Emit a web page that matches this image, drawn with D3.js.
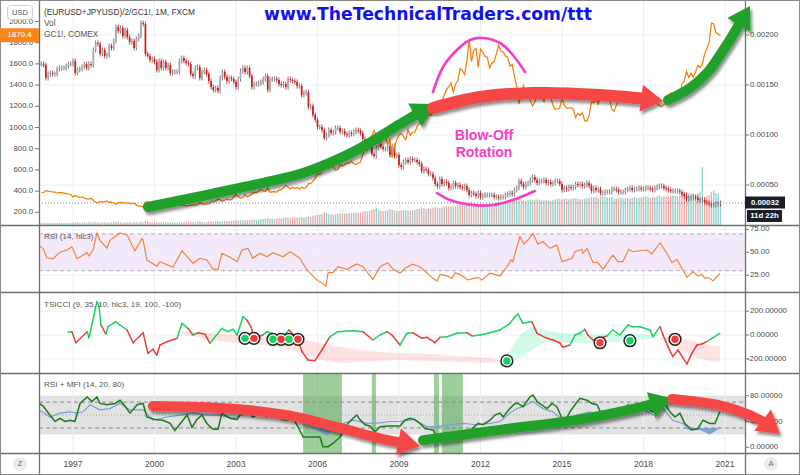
<!DOCTYPE html>
<html><head><meta charset="utf-8">
<script src="https://cdn.jsdelivr.net/npm/d3@7"></script>
<style>body{margin:0;background:#fff;}svg{display:block;font-family:"Liberation Sans",Arial,sans-serif;}</style>
</head><body><svg id="c" width="800" height="475"></svg>
<script>
// ---------- DATA ----------
const startYear = 1995, startMonth = 11; // first monthly bar: Nov 1995
// GC1! monthly close (USD)
const gold = [387,387,
405,400,396,392,390,382,385,387,379,379,371,369,
345,358,348,340,345,334,326,325,332,311,296,290,
303,297,301,308,293,296,288,273,293,292,294,288,
287,287,280,286,268,261,255,254,299,299,292,290,
283,293,278,275,272,288,276,277,273,264,270,273,
265,267,258,263,267,270,266,273,293,279,275,279,
282,297,302,308,326,318,304,313,324,317,319,347,
368,348,334,337,364,346,354,375,388,386,398,416,
403,396,427,388,393,395,391,407,416,428,453,438,
422,435,427,435,417,437,429,433,473,470,495,518,
569,556,582,654,643,613,633,626,599,604,648,636,
650,666,663,681,659,650,666,672,743,795,783,838,
923,972,917,864,885,930,913,833,884,718,816,884,
928,942,916,884,979,927,955,955,1008,1040,1182,1096,
1081,1118,1113,1180,1213,1245,1181,1247,1307,1357,1386,1421,
1333,1411,1439,1556,1536,1500,1628,1829,1624,1725,1746,1566,
1740,1711,1669,1664,1562,1604,1622,1692,1776,1719,1713,1675,
1663,1578,1595,1476,1392,1223,1313,1396,1327,1323,1250,1202,
1240,1326,1283,1295,1246,1322,1282,1287,1210,1171,1175,1184,
1279,1213,1183,1182,1190,1172,1095,1132,1115,1142,1065,1061,
1116,1238,1234,1291,1214,1322,1349,1309,1315,1277,1173,1152,
1211,1253,1249,1268,1269,1242,1269,1322,1284,1270,1275,1309,
1345,1318,1327,1316,1305,1254,1232,1206,1196,1215,1226,1283,
1325,1316,1298,1286,1311,1413,1437,1529,1472,1514,1473,1523,
1587,1566,1597,1694,1751,1800,1986,1978,1896,1880,1870];
// (EURUSD+JPYUSD)/2/GC1! monthly close, in units of 1e-5
const ratioE5 = [171,170,
157,161,162,161,161,166,167,167,167,169,171,171,
174,162,165,166,168,171,167,171,170,185,192,191,
181,185,179,180,189,187,194,208,204,207,199,205,
198,193,194,187,196,199,212,211,181,179,175,176,
173,165,174,167,173,167,170,162,163,163,163,174,
177,174,172,171,161,159,167,168,157,163,165,161,
154,148,145,147,144,157,163,158,154,157,156,153,
148,156,164,167,163,167,159,148,151,151,152,153,
156,159,145,156,156,156,155,151,150,151,148,156,
155,154,153,149,149,140,142,143,128,129,120,115,
108,108,105,97,100,105,102,103,107,107,103,104,
101,100,102,101,103,105,104,102,96,92,94,88,
81,79,87,91,88,86,86,89,80,89,79,80,
70,68,73,75,73,76,75,75,73,71,64,66,
65,61,61,57,51,49,56,51,53,52,47,48,
52,49,50,48,47,49,45,40,42,41,39,42,
38,39,40,40,40,40,38,38,37,38,38,40,
41,42,41,45,47,54,51,48,51,52,55,58,
55,52,54,54,55,52,53,51,52,54,54,51,
45,47,46,48,47,48,51,50,51,49,50,52,
49,44,47,45,46,42,42,43,43,43,46,46,
45,43,43,43,45,46,47,45,46,46,47,46,
46,47,47,46,45,47,48,49,49,47,46,45,
44,44,44,44,43,41,39,36,37,37,38,37,
35,35,35,33,32,31,30,30,31,31,32];
// monthly volume (relative units)
const volume = [5,6,
5,6,5,6,5,5,6,5,6,5,6,5,
6,6,7,6,6,7,6,7,6,8,7,6,
6,7,6,7,6,7,8,7,8,7,6,7,
6,7,6,7,7,6,8,7,10,9,7,6,
7,7,6,7,7,8,7,6,7,7,6,7,
7,7,8,7,8,7,7,8,9,8,7,8,
8,9,8,9,10,9,9,10,9,9,10,11,
12,11,12,11,13,12,12,13,14,13,14,15,
15,16,17,15,16,15,16,17,16,18,19,18,
18,19,18,19,18,20,19,20,22,21,23,24,
25,26,28,32,30,28,27,26,27,28,29,28,
28,29,30,29,30,31,30,32,34,35,34,36,
38,40,42,38,36,35,36,37,40,38,36,35,
35,36,38,36,37,36,37,38,40,41,44,42,
40,42,41,43,45,44,42,44,46,48,47,46,
48,47,50,52,50,48,52,56,58,54,52,50,
52,54,53,52,55,54,53,56,58,57,56,55,
58,60,62,64,66,68,64,62,60,62,64,63,
62,64,63,62,61,63,62,60,62,64,66,65,
64,65,66,64,65,66,67,66,65,64,66,67,
68,70,69,70,68,70,72,70,69,68,70,66,
66,67,68,66,67,68,66,68,70,68,67,69,
70,72,70,68,69,70,72,74,70,72,71,72,
72,74,73,72,74,80,78,82,79,80,78,76,
80,84,145,70,72,74,82,86,80,78,60];
// RSI(14, hlc3) [year, value]
const rsi = [[1995.75,57],[1995.90,54],[1996.04,44],[1996.26,43],[1996.52,50],[1996.78,52.5],[1996.96,56],[1997.15,43],[1997.52,49.6],[1997.59,46],[1997.74,52.5],[1997.88,71],[1997.99,63],[1998.25,54.6],[1998.36,63],[1998.73,71],[1998.99,68.8],[1999.28,51.7],[1999.54,65],[1999.58,63],[1999.72,41.6],[2000.09,35],[2000.20,39.8],[2000.68,33.7],[2001.01,51.7],[2001.42,38],[2001.67,43.5],[2001.93,41.6],[2002.15,31.8],[2002.34,31.8],[2002.48,48.9],[2002.78,44.6],[2003.04,39.8],[2003.22,52.5],[2003.44,54.3],[2003.62,43.5],[2003.88,48.9],[2004.14,45.2],[2004.36,49.6],[2004.73,45.2],[2004.99,50.7],[2005.35,43.5],[2005.61,30.8],[2005.98,20],[2006.31,13.4],[2006.39,27.8],[2006.57,27.8],[2006.75,34.3],[2007.08,31.5],[2007.45,37.3],[2007.67,34.3],[2008.04,20.6],[2008.30,34.3],[2008.59,38.7],[2008.78,31.5],[2009.04,27.2],[2009.22,32.6],[2009.51,37],[2009.77,34.3],[2010.25,21.7],[2010.40,18.8],[2010.51,26],[2010.77,24.3],[2010.95,21.7],[2011.06,27.8],[2011.24,26],[2011.54,20],[2011.72,21.3],[2011.91,22.8],[2012.05,20],[2012.35,27.2],[2012.72,24.3],[2012.97,34.3],[2013.12,41.6],[2013.19,39.8],[2013.34,56],[2013.45,67],[2013.60,59],[2013.75,63.4],[2013.93,70.6],[2014.11,59],[2014.30,61.5],[2014.56,54.3],[2014.81,58],[2015.00,39.8],[2015.37,43.5],[2015.48,50.7],[2015.73,53.3],[2015.77,48.9],[2015.92,54.3],[2016.14,39],[2016.32,38.7],[2016.51,31.5],[2016.87,47],[2017.06,39.8],[2017.24,39.8],[2017.46,53.3],[2017.61,50.7],[2017.87,51.7],[2018.13,52.5],[2018.31,48.2],[2018.61,60.4],[2018.86,48.9],[2019.05,38.7],[2019.23,42.4],[2019.60,22.8],[2019.82,29],[2020.00,24.3],[2020.15,26],[2020.26,21.7],[2020.37,22.8],[2020.56,19],[2020.81,27.2]];
// TSICCI [year, value, state g/r]
const tsi = [[1996.82,23,'g'],[1996.96,28,'g'],[1997.11,-65,'r'],[1997.52,28,'r'],[1997.59,-23,'g'],[1997.88,280,'g'],[1997.96,238,'g'],[1998.03,84,'g'],[1998.21,8,'r'],[1998.29,70,'g'],[1998.58,112,'g'],[1998.73,84,'g'],[1998.99,42,'g'],[1999.21,-65,'r'],[1999.58,19,'r'],[1999.76,-154,'r'],[1999.94,-120,'r'],[2000.09,-168,'r'],[2000.20,-84,'r'],[2000.46,-56,'r'],[2000.83,-28,'r'],[2001.01,98,'g'],[2001.23,56,'g'],[2001.42,0,'r'],[2001.60,19,'g'],[2001.86,6,'r'],[2002.04,-70,'r'],[2002.48,56,'g'],[2002.70,28,'g'],[2002.89,48,'g'],[2003.04,0,'g'],[2003.26,154,'g'],[2003.40,126,'g'],[2003.55,70,'r'],[2003.66,-28,'r'],[2003.99,0,'r'],[2004.14,28,'g'],[2004.32,14,'g'],[2004.62,-42,'r'],[2004.95,42,'g'],[2005.28,-36,'r'],[2005.43,-140,'r'],[2005.65,-210,'r'],[2005.91,-216,'r'],[2006.16,-126,'r'],[2006.46,-14,'r'],[2006.75,28,'g'],[2007.31,36,'g'],[2007.67,28,'g'],[2008.04,-42,'r'],[2008.30,0,'g'],[2008.56,28,'g'],[2008.74,0,'r'],[2009.04,-84,'r'],[2009.29,14,'g'],[2009.51,19,'g'],[2009.85,-28,'r'],[2010.03,-19,'r'],[2010.32,-65,'r'],[2010.51,-19,'r'],[2010.77,-14,'g'],[2011.13,14,'g'],[2011.50,19,'g'],[2011.69,-8,'r'],[2011.98,0,'g'],[2012.35,19,'g'],[2012.72,42,'g'],[2013.08,98,'g'],[2013.27,154,'g'],[2013.38,176,'g'],[2013.56,98,'g'],[2013.89,112,'g'],[2014.08,14,'r'],[2014.45,-28,'r'],[2014.67,-42,'r'],[2014.92,-65,'r'],[2015.03,-103,'r'],[2015.29,-84,'r'],[2015.48,0,'g'],[2015.66,14,'g'],[2015.84,48,'g'],[2015.95,0,'r'],[2016.14,-42,'r'],[2016.40,-28,'r'],[2016.65,-8,'r'],[2016.87,42,'g'],[2017.13,0,'g'],[2017.43,84,'g'],[2017.61,70,'g'],[2017.87,70,'g'],[2018.24,42,'g'],[2018.35,-14,'g'],[2018.61,70,'g'],[2018.72,0,'r'],[2018.90,-98,'r'],[2019.08,-182,'r'],[2019.27,-126,'r'],[2019.60,-244,'r'],[2019.78,-154,'r'],[2019.97,-84,'r'],[2020.15,-76,'r'],[2020.33,-56,'r'],[2020.52,-28,'g'],[2020.81,14,'g']];
// TSICCI signal band [year, fast, slow]
const tsiBand = [[2001.01,8,34],[2002.04,-42,17],[2003.15,-67,0],[2004.25,-92,-17],[2005.35,-143,-34],[2006.09,-210,-67],[2006.83,-235,-101],[2007.56,-227,-126],[2008.30,-218,-143],[2009.04,-210,-151],[2010.14,-218,-160],[2011.24,-227,-176],[2012.35,-235,-193],[2012.83,-227,-218],[2013.08,-126,-227],[2013.45,0,-193],[2013.89,67,-126],[2014.37,42,-59],[2014.92,17,-67],[2015.66,8,-67],[2016.40,8,-67],[2017.13,8,-59],[2017.87,8,-42],[2018.42,-8,-25],[2018.97,-84,-25],[2019.71,-168,-42],[2020.26,-210,-76],[2020.81,-227,-101]];
// TSICCI signals [year, value, type]
const tsiSignals = [[2003.33,-28,'buy'],[2003.66,-28,'sell'],[2004.36,-36,'buy'],[2004.66,-36,'sell'],[2004.95,-36,'buy'],[2005.28,-36,'sell'],[2012.97,-218,'buy'],[2016.40,-65,'sell'],[2017.50,-48,'buy'],[2019.16,-36,'sell']];
// RSI + MFI: RSI (green) and MFI (blue) [year, value]
const mfiRsi = [[1995.75,68],[1995.90,64],[1996.15,50],[1996.34,40],[1996.52,45],[1996.71,40],[1996.89,42],[1997.07,40],[1997.26,68],[1997.52,78],[1997.70,71],[1997.88,78],[1997.99,68],[1998.25,66],[1998.55,68],[1998.73,73],[1998.91,64],[1999.10,53],[1999.36,66],[1999.58,68],[1999.72,47],[2000.02,43],[2000.31,42],[2000.57,37],[2000.75,26],[2001.01,40],[2001.20,50],[2001.38,31],[2001.56,43],[2001.75,50],[2001.93,37],[2002.15,28],[2002.34,28],[2002.48,53],[2002.78,45],[2003.04,43],[2003.22,55],[2003.44,55],[2003.62,47],[2003.88,53],[2004.14,47],[2004.36,55],[2004.69,43],[2004.91,42],[2005.06,47],[2005.28,32],[2005.47,16],[2005.80,16],[2006.09,16],[2006.20,1],[2006.39,1],[2006.57,6],[2006.83,16],[2007.12,37],[2007.31,45],[2007.45,50],[2007.56,43],[2007.75,35],[2007.93,33],[2008.12,24],[2008.30,32],[2008.59,33],[2008.78,33],[2009.04,33],[2009.22,42],[2009.40,45],[2009.59,43],[2009.77,37],[2009.96,29],[2010.25,27],[2010.40,16],[2010.58,19],[2010.77,11],[2010.95,11],[2011.17,19],[2011.43,22],[2011.69,29],[2011.91,37],[2012.09,35],[2012.35,42],[2012.53,50],[2012.72,53],[2012.83,47],[2013.08,60],[2013.27,68],[2013.38,68],[2013.56,63],[2013.82,78],[2013.93,81],[2014.08,71],[2014.45,60],[2014.63,68],[2014.81,63],[2015.00,45],[2015.11,40],[2015.29,55],[2015.48,66],[2015.66,76],[2015.92,73],[2016.10,68],[2016.29,66],[2016.47,50],[2016.69,47],[2016.95,47],[2017.21,55],[2017.43,66],[2017.61,60],[2017.87,63],[2018.16,60],[2018.35,55],[2018.61,66],[2018.79,68],[2018.97,55],[2019.16,47],[2019.34,53],[2019.52,37],[2019.78,27],[2020.00,29],[2020.19,42],[2020.44,37],[2020.63,37],[2020.81,55]];
const mfi = [[1995.75,58],[1995.90,54],[1996.15,47],[1996.52,53],[1996.89,55],[1997.15,53],[1997.37,55],[1997.63,66],[1997.99,58],[1998.36,60],[1998.73,68],[1999.10,58],[1999.58,58],[1999.94,42],[2000.46,47],[2000.94,50],[2001.42,53],[2001.93,50],[2002.41,50],[2002.89,45],[2003.40,53],[2003.88,54],[2004.36,53],[2004.88,53],[2005.24,42],[2005.61,35],[2005.98,27],[2006.35,19],[2006.57,27],[2006.83,35],[2007.31,42],[2007.82,37],[2008.30,38],[2008.67,40],[2009.04,40],[2009.51,43],[2010.03,32],[2010.40,32],[2010.88,35],[2011.35,37],[2011.87,35],[2012.35,37],[2012.72,40],[2013.08,53],[2013.34,60],[2013.56,63],[2013.93,71],[2014.30,60],[2014.67,55],[2015.03,42],[2015.55,50],[2016.03,55],[2016.51,47],[2017.02,47],[2017.50,58],[2017.98,59],[2018.35,50],[2018.72,60],[2019.08,42],[2019.45,37],[2019.71,27],[2020.08,28],[2020.44,21],[2020.81,31]];
const mfiZones = [[2005.47,2006.90],[2008.00,2008.15],[2010.29,2010.47],[2010.58,2011.35]];
const yearTicks = [1997,2000,2003,2006,2009,2012,2015,2018,2021];
const goldTicks = [200,400,600,800,1000,1200,1400,1600,1800,2000];
const ratioTicksE5 = [50,100,150,200];
const rsiTicks = [25,50,75], tsiTicks = [-200,0,200], mfiTicks = [0,40,80];
const lastGold = 1870.4, lastRatioE5 = 32;
// annotations (year, ratio e-5) / (year, RSI+MFI value)
const arrowsMain = [
 {c:'#21a12b', w:10, pts:[[1999.76,28],[2002.78,45],[2005.58,63],[2007.45,85],[2009.04,111],[2010.29,131]]},
 {c:'#f64646', w:12, pts:[[2010.25,127],[2011.98,138],[2014.04,142],[2016.40,140],[2018.15,136],[2018.72,134]]},
 {c:'#21a12b', w:10, pts:[[2018.90,135],[2019.71,147],[2020.37,163],[2020.89,183],[2021.18,195],[2021.92,229]]}];
const arrowsMfi = [
 {c:'#f64646', w:10, pts:[[1999.94,64],[2002.78,60],[2004.99,49],[2006.83,30],[2008.30,14],[2009.77,2]]},
 {c:'#21a12b', w:10, pts:[[2009.88,11],[2012.72,27],[2015.77,44],[2017.87,62],[2018.61,70],[2019.05,76]]},
 {c:'#f64646', w:10, pts:[[2019.05,75],[2020.70,66],[2021.92,50],[2022.60,35],[2023.02,21]]}];
const arcTop = [[2010.25,143],[2010.62,168],[2011.13,185],[2011.61,195],[2012.09,197],[2012.72,192],[2013.19,180],[2013.64,163]];
const arcBottom = [[2010.40,42],[2010.88,35],[2011.72,30],[2012.46,30],[2013.19,35],[2014.00,44]];

// ---------- LAYOUT ----------
const svg = d3.select('#c');
const L = 39, R = 745;
const panels = {main:[0,225], rsi:[225,292], tsi:[292,373], mfi:[373,453]};
const x = d3.scaleLinear().domain([1997,2021]).range([73,725]);
const yG = d3.scaleLinear().domain([200,2000]).range([212.3,21.5]);
const yR = d3.scaleLinear().domain([0,200]).range([235,35]);
const yV = d3.scaleLinear().domain([0,150]).range([225,165]);
const yS = d3.scaleLinear().domain([25,75]).range([275.3,229.3]);
const yT = d3.scaleLinear().domain([-200,200]).range([358.8,311.2]);
const yM = d3.scaleLinear().domain([0,80]).range([447.3,395.7]);
const tOf = i => startYear + (startMonth-1+i)/12;

const defs = svg.append('defs');
Object.entries(panels).forEach(([k,[a,b]])=>{
  defs.append('clipPath').attr('id','clip-'+k).append('rect').attr('x',L).attr('y',a).attr('width',R-L).attr('height',b-a);
});
const f = defs.append('filter').attr('id','shadow').attr('x','-20%').attr('y','-20%').attr('width','140%').attr('height','140%');
f.append('feDropShadow').attr('dx',2).attr('dy',3).attr('stdDeviation',1.6).attr('flood-color','#000').attr('flood-opacity',0.45);

svg.append('rect').attr('width',800).attr('height',475).attr('fill','#fff');

// panel backgrounds
svg.append('rect').attr('x',L).attr('width',R-L).attr('y',yS(70)).attr('height',yS(30)-yS(70)).attr('fill','#f4e8fb');
svg.append('rect').attr('x',L).attr('width',R-L).attr('y',yM(80)).attr('height',yM(20)-yM(80)).attr('fill','#e2e2e2');

// grid
const grid = svg.append('g').attr('stroke','#eaf0f5').attr('stroke-width',1);
yearTicks.forEach(t=>grid.append('line').attr('x1',x(t)).attr('x2',x(t)).attr('y1',0).attr('y2',453));
ratioTicksE5.forEach(v=>grid.append('line').attr('x1',L).attr('x2',R).attr('y1',yR(v)).attr('y2',yR(v)));
rsiTicks.forEach(v=>grid.append('line').attr('x1',L).attr('x2',R).attr('y1',yS(v)).attr('y2',yS(v)));
tsiTicks.forEach(v=>grid.append('line').attr('x1',L).attr('x2',R).attr('y1',yT(v)).attr('y2',yT(v)));

// ---------- MAIN PANEL ----------
const gm = svg.append('g').attr('clip-path','url(#clip-main)');
const bw = (x(1998)-x(1997))/12;
volume.forEach((v,i)=>{
  const up = i===0 || ratioE5[i] >= ratioE5[i-1];
  gm.append('rect').attr('x',x(tOf(i))-bw*0.3).attr('width',bw*0.6).attr('y',yV(v)).attr('height',yV(0)-yV(v))
    .attr('fill', up ? 'rgba(38,166,154,0.5)' : 'rgba(239,83,80,0.5)');
});
ratioE5.forEach((c,i)=>{
  const o = i===0 ? c : ratioE5[i-1];
  const up = c >= o;
  const cx = x(tOf(i));
  const y1 = yR(Math.max(o,c)), y2 = yR(Math.min(o,c));
  gm.append('line').attr('x1',cx).attr('x2',cx).attr('y1',y1-2.5).attr('y2',y2+2.5).attr('stroke', up?'#555':'#b71c1c').attr('stroke-width',0.8);
  gm.append('rect').attr('x',cx-bw*0.38).attr('width',bw*0.76).attr('y',y1).attr('height',Math.max(0.8,y2-y1)).attr('fill', up?'#a9acb3':'#d01c1c');
});
gm.append('line').attr('x1',L).attr('x2',R).attr('y1',yR(lastRatioE5)).attr('y2',yR(lastRatioE5)).attr('stroke','#888').attr('stroke-dasharray','1,2');
gm.append('path').datum(gold).attr('d', d3.line().x((d,i)=>x(tOf(i))).y(d=>yG(d))).attr('fill','none').attr('stroke','#f57c00').attr('stroke-width',1.2);

// ---------- RSI ----------
const gr = svg.append('g').attr('clip-path','url(#clip-rsi)');
[70,30].forEach(v=>gr.append('line').attr('x1',L).attr('x2',R).attr('y1',yS(v)).attr('y2',yS(v)).attr('stroke','#b4b4b4').attr('stroke-dasharray','4,3'));
gr.append('path').datum(rsi).attr('d', d3.line().x(d=>x(d[0])).y(d=>yS(d[1]))).attr('fill','none').attr('stroke','#f7823c').attr('stroke-width',1.2);

// ---------- TSICCI ----------
const gt = svg.append('g').attr('clip-path','url(#clip-tsi)');
const segs=[];
for(let i=1;i<tsiBand.length;i++){
  const a=tsiBand[i-1], b=tsiBand[i], da=a[1]-a[2], db=b[1]-b[2];
  if(da*db<0){ const k=da/(da-db); const t=a[0]+(b[0]-a[0])*k, v=a[1]+(b[1]-a[1])*k; const m=[t,v,v];
    segs.push([a,m,da>0]); segs.push([m,b,db>0]); }
  else segs.push([a,b,(da+db)>0]);
}
const runs=[]; let cur=null;
segs.forEach(s=>{ if(!cur||cur.up!==s[2]){cur={up:s[2],pts:[s[0]]};runs.push(cur);} cur.pts.push(s[1]); });
runs.forEach(r=>gt.append('path').datum(r.pts).attr('d', d3.area().x(d=>x(d[0])).y0(d=>yT(d[2])).y1(d=>yT(d[1])))
  .attr('fill', r.up ? 'rgba(0,230,118,0.17)' : 'rgba(255,82,82,0.16)'));
for(let i=1;i<tsi.length;i++){
  gt.append('line').attr('x1',x(tsi[i-1][0])).attr('y1',yT(tsi[i-1][1])).attr('x2',x(tsi[i][0])).attr('y2',yT(tsi[i][1]))
    .attr('stroke', tsi[i][2]==='g' ? '#17d35e' : '#f23c36').attr('stroke-width',1.5).attr('stroke-linecap','round');
}
const gsig = svg.append('g');
tsiSignals.forEach(s=>gsig.append('circle').attr('cx',x(s[0])).attr('cy',yT(s[1])).attr('r',6.6).attr('fill','#222'));
tsiSignals.forEach(s=>gsig.append('circle').attr('cx',x(s[0])).attr('cy',yT(s[1])).attr('r',5.1).attr('fill','#fff'));
tsiSignals.forEach(s=>gsig.append('circle').attr('cx',x(s[0])).attr('cy',yT(s[1])).attr('r',3.7).attr('fill', s[2]==='buy'?'#14d45c':'#f23c3c'));

// ---------- RSI + MFI ----------
const gf = svg.append('g').attr('clip-path','url(#clip-mfi)');
mfiZones.forEach(z=>gf.append('rect').attr('x',x(z[0])).attr('width',x(z[1])-x(z[0])).attr('y',373).attr('height',80).attr('fill','rgba(60,160,60,0.5)'));
[70,30].forEach(v=>gf.append('line').attr('x1',L).attr('x2',R).attr('y1',yM(v)).attr('y2',yM(v)).attr('stroke','#8a8a8a').attr('stroke-dasharray','4,3'));
gf.append('line').attr('x1',L).attr('x2',R).attr('y1',yM(50)).attr('y2',yM(50)).attr('stroke','#a8a8a8').attr('stroke-dasharray','1,2');
gf.append('path').datum(mfi).attr('d', d3.area().x(d=>x(d[0])).y0(yM(30)).y1(d=>yM(Math.min(30,d[1])))).attr('fill','rgba(100,140,210,0.75)');
gf.append('path').datum(mfi).attr('d', d3.line().x(d=>x(d[0])).y(d=>yM(d[1]))).attr('fill','none').attr('stroke','#7b9dd4').attr('stroke-width',1.2);
gf.append('path').datum(mfiRsi).attr('d', d3.line().x(d=>x(d[0])).y(d=>yM(d[1]))).attr('fill','none').attr('stroke','#1c7c1c').attr('stroke-width',1.5);

// ---------- FRAME & AXES ----------
const fr = svg.append('g').attr('stroke','#6f6f6f').attr('stroke-width',1.3);
[225,292,373,453].forEach(y=>fr.append('line').attr('x1',0).attr('x2',800).attr('y1',y+0.5).attr('y2',y+0.5));
fr.append('line').attr('x1',L+0.5).attr('x2',L+0.5).attr('y1',0).attr('y2',475);
fr.append('line').attr('x1',R+0.5).attr('x2',R+0.5).attr('y1',0).attr('y2',475);
svg.append('rect').attr('x',0.5).attr('y',0.5).attr('width',799).attr('height',474).attr('fill','none').attr('stroke','#8a8a8a');

const txt = (g,xx,yy,s,opt={})=>g.append('text').attr('x',xx).attr('y',yy).text(s)
   .attr('font-size',opt.fs||8).attr('fill',opt.c||'#4a4a4a').attr('text-anchor',opt.a||'start').attr('font-weight',opt.w||'normal')
   .attr('font-family',opt.ff||null).attr('dominant-baseline',opt.db||'middle');
const ax = svg.append('g');
goldTicks.forEach(v=>{ txt(ax,33,yG(v),v.toFixed(1),{a:'end',fs:7.8}); ax.append('line').attr('x1',35).attr('x2',39).attr('y1',yG(v)).attr('y2',yG(v)).attr('stroke','#777'); });
ratioTicksE5.forEach(v=>{ txt(ax,750,yR(v),(v/1e5).toFixed(5),{fs:7.8}); ax.append('line').attr('x1',745).attr('x2',749).attr('y1',yR(v)).attr('y2',yR(v)).attr('stroke','#777'); });
rsiTicks.forEach(v=>{ txt(ax,750,yS(v),v.toFixed(2),{fs:7.8}); ax.append('line').attr('x1',745).attr('x2',749).attr('y1',yS(v)).attr('y2',yS(v)).attr('stroke','#777'); });
tsiTicks.forEach(v=>{ txt(ax,v<0?747:750,yT(v),v.toFixed(5),{fs:7.8}); ax.append('line').attr('x1',745).attr('x2',749).attr('y1',yT(v)).attr('y2',yT(v)).attr('stroke','#777'); });
mfiTicks.forEach(v=>{ txt(ax,750,yM(v),v.toFixed(5),{fs:7.8}); ax.append('line').attr('x1',745).attr('x2',749).attr('y1',yM(v)).attr('y2',yM(v)).attr('stroke','#777'); });
yearTicks.forEach(t=>txt(ax,x(t),465,String(t),{a:'middle',fs:8.5}));

// price labels
ax.append('rect').attr('x',0).attr('y',yG(lastGold)-7).attr('width',39).attr('height',14).attr('fill','#f7861c');
txt(ax,19.5,yG(lastGold),lastGold.toFixed(1),{a:'middle',c:'#fff',fs:8});
ax.append('rect').attr('x',745).attr('y',yR(lastRatioE5)-6.5).attr('width',40).attr('height',12).attr('fill','#1b1f2b');
txt(ax,765,yR(lastRatioE5),(lastRatioE5/1e5).toFixed(5),{a:'middle',c:'#fff',fs:7.8,w:'bold'});
ax.append('rect').attr('x',747).attr('y',210).attr('width',35).attr('height',12).attr('fill','#1b1f2b');
txt(ax,764.5,216,'11d 22h',{a:'middle',c:'#fff',fs:7.8,w:'bold'});
ax.append('rect').attr('x',7.5).attr('y',5.5).attr('width',25).attr('height',14).attr('rx',3).attr('fill','#fff').attr('stroke','#d0d0d0');
txt(ax,20,12.8,'USD',{a:'middle',fs:7.5,c:'#555'});
ax.append('circle').attr('cx',20).attr('cy',464).attr('r',7).attr('fill','#ececec');
txt(ax,20,464.5,'Z',{a:'middle',fs:7.5,c:'#666'});
ax.append('circle').attr('cx',771).attr('cy',464).attr('r',7).attr('fill','#ececec');
txt(ax,771,464.5,'A',{a:'middle',fs:7.5,c:'#666'});

// titles
txt(ax,44,13,'(EURUSD+JPYUSD)/2/GC1!, 1M, FXCM',{fs:8.3,c:'#333'});
txt(ax,44,24,'Vol',{fs:8.3,c:'#555'});
txt(ax,44,35,'GC1!, COMEX',{fs:8.3,c:'#555'});
txt(ax,44,237,'RSI (14, hlc3)',{fs:8.1,c:'#555'});
txt(ax,44,305,'TSICCI (9, 35, 10, hlc3, 19, 100, -100)',{fs:8.1,c:'#555'});
txt(ax,44,385,'RSI + MFI (14, 20, 80)',{fs:8.1,c:'#555'});

// ---------- ANNOTATIONS ----------
function arrow(g, pts, color, w, hl, hw){
  const n=pts.length, tip=pts[n-1], prev=pts[n-2];
  const dx=tip[0]-prev[0], dy=tip[1]-prev[1], Ln=Math.hypot(dx,dy), ux=dx/Ln, uy=dy/Ln;
  const base=[tip[0]-ux*hl, tip[1]-uy*hl];
  const shaft=pts.slice(0,n-1).concat([[base[0]+ux*3, base[1]+uy*3]]);
  const gg=g.append('g').attr('filter','url(#shadow)');
  gg.append('path').attr('d', d3.line().curve(d3.curveCatmullRom)(shaft)).attr('fill','none').attr('stroke',color).attr('stroke-width',w).attr('stroke-linecap','round');
  const px=-uy, py=ux;
  gg.append('path').attr('d',`M${tip[0]},${tip[1]}L${base[0]+px*hw/2},${base[1]+py*hw/2}L${base[0]-px*hw/2},${base[1]-py*hw/2}Z`).attr('fill',color);
}
const an = svg.append('g');
arrowsMain.forEach(a=>arrow(an, a.pts.map(p=>[x(p[0]),yR(p[1])]), a.c, a.w, 22, 27));
arrowsMfi.forEach(a=>arrow(an, a.pts.map(p=>[x(p[0]),yM(p[1])]), a.c, a.w, 22, 27));
const arcLine = d3.line().curve(d3.curveCatmullRom).x(d=>x(d[0])).y(d=>yR(d[1]));
an.append('path').datum(arcTop).attr('d',arcLine).attr('fill','none').attr('stroke','#f53dc6').attr('stroke-width',2.6).attr('stroke-linecap','round');
an.append('path').datum(arcBottom).attr('d',arcLine).attr('fill','none').attr('stroke','#f53dc6').attr('stroke-width',2.6).attr('stroke-linecap','round');
txt(an,x(2012.13),yR(95),'Blow-Off',{a:'middle',fs:14,w:'bold',c:'#f53dc6',db:'alphabetic'});
txt(an,x(2012.13),yR(78),'Rotation',{a:'middle',fs:14,w:'bold',c:'#f53dc6',db:'alphabetic'});
txt(an,428,20,'www.TheTechnicalTraders.com/ttt',{a:'middle',fs:17.2,w:'bold',c:'#1212ee',ff:'DejaVu Sans',db:'alphabetic'});
</script></body></html>
